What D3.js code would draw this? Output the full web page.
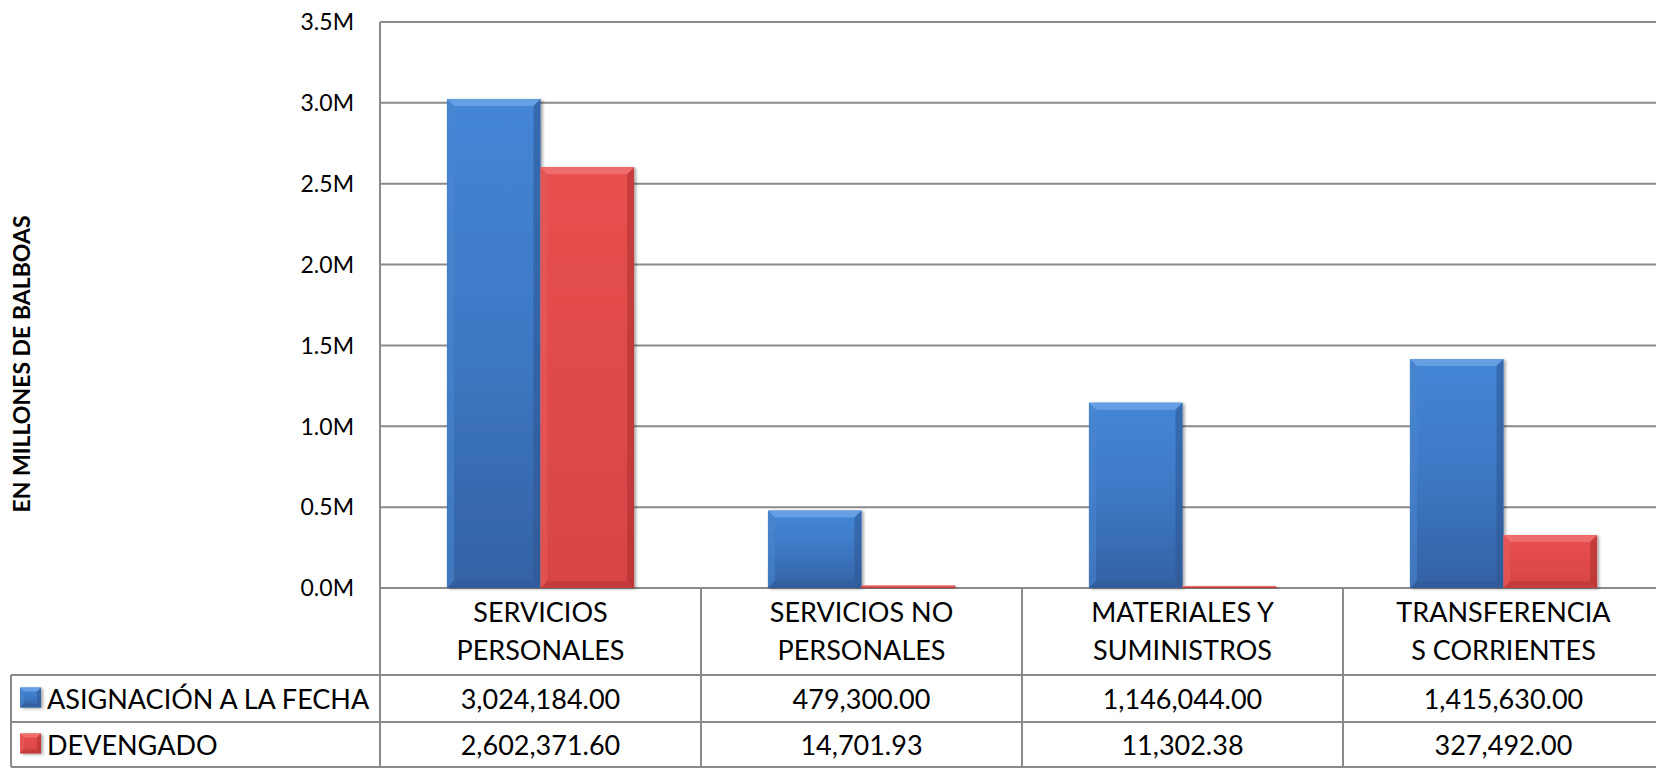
<!DOCTYPE html>
<html>
<head>
<meta charset="utf-8">
<script src="https://cdn.jsdelivr.net/npm/d3@7"></script>
<style>
  html, body { margin: 0; padding: 0; background: #fff; }
  svg { display: block; }
  text { font-family: Lato, "Open Sans", sans-serif; fill: #000; }
</style>
</head>
<body>
<svg id="chart" width="1656" height="768"></svg>
<script>
// ---- data ----
const categories = [
  ["SERVICIOS", "PERSONALES"],
  ["SERVICIOS NO", "PERSONALES"],
  ["MATERIALES Y", "SUMINISTROS"],
  ["TRANSFERENCIA", "S CORRIENTES"]
];
const seriesNames = ["ASIGNACIÓN A LA FECHA", "DEVENGADO"];
const asignacion = [3024184.00, 479300.00, 1146044.00, 1415630.00];
const devengado = [2602371.60, 14701.93, 11302.38, 327492.00];
const yTicks = [0, 500000, 1000000, 1500000, 2000000, 2500000, 3000000, 3500000];
const axisTitle = "EN MILLONES DE BALBOAS";

const series = [asignacion, devengado];
const W = 1656, H = 768;
const svg = d3.select("#chart");

// ---- layout ----
const plotLeft = 380, plotRight = 1664, plotTop = 22, plotBottom = 588;
const rowTops = [588, 675, 722, 767];
const tableLeft = 11;

const x0 = d3.scaleBand()
  .domain(d3.range(categories.length))
  .range([plotLeft, plotRight])
  .paddingInner(0.417)
  .paddingOuter(0.2085);
const x1 = d3.scaleBand().domain(d3.range(series.length)).range([0, x0.bandwidth()]);
const y = d3.scaleLinear().domain([0, 3500000]).range([plotBottom, plotTop]);
const step = x0.step();

const palettes = [
  { top: "#4486d6", mid: "#3d78c4", bot: "#3462a4", light: "#6aa2e4", dark: "#2b5590", side: "#4a86cf" },
  { top: "#e85050", mid: "#e04a4a", bot: "#d84444", light: "#ee7070", dark: "#aa3030", side: "#e65a5a" }
];

const defs = svg.append("defs");
palettes.forEach((p, i) => {
  const g = defs.append("linearGradient").attr("id", "grad" + i)
    .attr("x1", 0).attr("y1", 0).attr("x2", 0).attr("y2", 1);
  g.append("stop").attr("offset", "0%").attr("stop-color", p.top);
  g.append("stop").attr("offset", "50%").attr("stop-color", p.mid);
  g.append("stop").attr("offset", "100%").attr("stop-color", p.bot);
});
const f = defs.append("filter").attr("id", "shadow")
  .attr("x", "-10%").attr("y", "-10%").attr("width", "130%").attr("height", "130%");
f.append("feDropShadow").attr("dx", 2).attr("dy", 1).attr("stdDeviation", 1.5)
  .attr("flood-color", "#000").attr("flood-opacity", 0.35);

// ---- gridlines ----
const gridColor = "#8a8a8a";
svg.append("g").selectAll("line").data(yTicks).join("line")
  .attr("x1", plotLeft).attr("x2", W)
  .attr("y1", d => y(d)).attr("y2", d => y(d))
  .attr("stroke", gridColor).attr("stroke-width", 2);

// tick labels
svg.append("g").selectAll("text").data(yTicks).join("text")
  .attr("x", plotLeft - 26).attr("y", d => y(d))
  .attr("dy", "0.36em")
  .attr("text-anchor", "end")
  .attr("font-size", 23)
  .text(d => d3.format(".1f")(d / 1e6) + "M");

// axis title
svg.append("text")
  .attr("transform", `translate(30, 364) rotate(-90)`)
  .attr("text-anchor", "middle")
  .attr("font-size", 23)
  .attr("font-weight", "bold")
  .text(axisTitle);

// ---- bars ----
function bevelBar(g, x, yTop, w, h, p, gi, b) {
  if (h <= 0) return;
  const bb = Math.min(b, h / 2, w / 2);
  const grp = g.append("g").attr("filter", "url(#shadow)");
  grp.append("rect").attr("x", x).attr("y", yTop).attr("width", w).attr("height", h)
    .attr("fill", `url(#grad${gi})`);
  const poly = (pts, fill, op) => grp.append("polygon")
    .attr("points", pts.map(q => q.join(",")).join(" "))
    .attr("fill", fill).attr("fill-opacity", op);
  poly([[x, yTop], [x + w, yTop], [x + w - bb, yTop + bb], [x + bb, yTop + bb]], p.light, 0.9);
  poly([[x, yTop], [x + bb, yTop + bb], [x + bb, yTop + h - bb], [x, yTop + h]], p.side, 0.6);
  poly([[x + w, yTop], [x + w - bb, yTop + bb], [x + w - bb, yTop + h - bb], [x + w, yTop + h]], p.dark, 0.55);
  poly([[x, yTop + h], [x + bb, yTop + h - bb], [x + w - bb, yTop + h - bb], [x + w, yTop + h]], p.dark, 0.4);
}

const barsG = svg.append("g");
series.forEach((vals, si) => {
  vals.forEach((v, ci) => {
    const bx = x0(ci) + x1(si);
    const by = y(v);
    bevelBar(barsG, bx, by, x1.bandwidth(), y(0) - by, palettes[si], si, 7);
  });
});

// ---- data table ----
const tableG = svg.append("g");
const lineColor = "#8a8a8a";
// vertical axis line
tableG.append("line").attr("x1", plotLeft).attr("x2", plotLeft)
  .attr("y1", plotTop).attr("y2", H).attr("stroke", lineColor).attr("stroke-width", 2);
// category dividers
tableG.selectAll("line.div").data(d3.range(1, categories.length)).join("line")
  .attr("class", "div")
  .attr("x1", d => plotLeft + d * step).attr("x2", d => plotLeft + d * step)
  .attr("y1", rowTops[0]).attr("y2", H)
  .attr("stroke", lineColor).attr("stroke-width", 2);
// horizontal row lines
tableG.selectAll("line.row").data(rowTops.slice(1)).join("line")
  .attr("class", "row")
  .attr("x1", tableLeft).attr("x2", W)
  .attr("y1", d => d).attr("y2", d => d)
  .attr("stroke", lineColor).attr("stroke-width", 2);
// table left border
tableG.append("line").attr("x1", tableLeft).attr("x2", tableLeft)
  .attr("y1", rowTops[1]).attr("y2", rowTops[3])
  .attr("stroke", lineColor).attr("stroke-width", 2);

const cellFont = 27;
// category labels
categories.forEach((lines, ci) => {
  const cx = plotLeft + (ci + 0.5) * step;
  lines.forEach((ln, li) => {
    tableG.append("text")
      .attr("x", cx).attr("y", 622 + li * 38)
      .attr("text-anchor", "middle")
      .attr("font-size", cellFont)
      .text(ln);
  });
});

// series rows
const fmt = d3.format(",.2f");
series.forEach((vals, si) => {
  const rowMid = (rowTops[si + 1] + rowTops[si + 2]) / 2;
  const baseline = rowMid + 10;
  // legend key
  bevelBar(tableG, 20, rowMid - 11, 21, 20, palettes[si], si, 4);
  tableG.append("text")
    .attr("x", 47).attr("y", baseline)
    .attr("font-size", cellFont)
    .text(seriesNames[si]);
  vals.forEach((v, ci) => {
    tableG.append("text")
      .attr("x", plotLeft + (ci + 0.5) * step).attr("y", baseline)
      .attr("text-anchor", "middle")
      .attr("font-size", cellFont)
      .text(fmt(v));
  });
});
</script>
</body>
</html>
